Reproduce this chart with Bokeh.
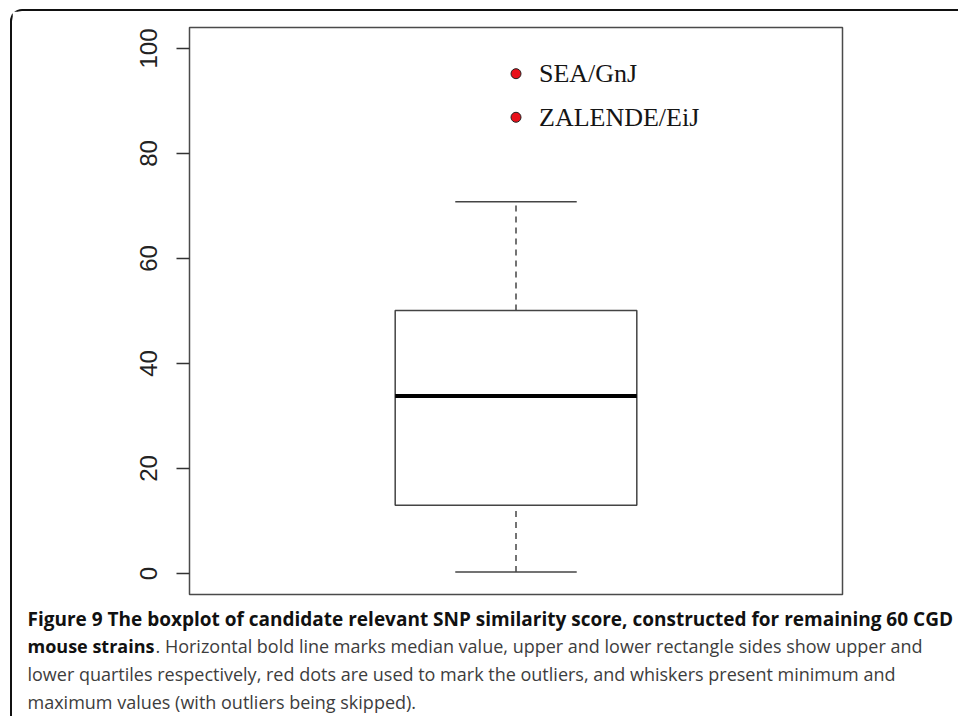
from bokeh.plotting import figure
from bokeh.layouts import column
from bokeh.models import Range1d, FixedTicker, ColumnDataSource
from bokeh.core.properties import value
from bokeh.embed import file_html
from bokeh.resources import INLINE

# ---- data ----
box_center = [1.0]
q1 = [13.0]
median = [33.8]
q3 = [50.1]
whisker_low = [0.3]
whisker_high = [70.8]
outlier_names = ["SEA/GnJ", "ZALENDE/EiJ"]
outlier_values = [95.2, 86.9]
y_ticks = [0, 20, 40, 60, 80, 100]

caption_bold_1 = "Figure 9 The boxplot of candidate relevant SNP similarity score, constructed for remaining 60 CGD"
caption_bold_2 = "mouse strains"
caption_rest_2 = ". Horizontal bold line marks median value, upper and lower rectangle sides show upper and"
caption_3 = "lower quartiles respectively, red dots are used to mark the outliers, and whiskers present minimum and"
caption_4 = "maximum values (with outliers being skipped)."

# ---- layout ----
BOX_W = 0.37
CAP_W = 0.186
X0, X1 = 0.5, 1.5
Y0, Y1 = -4, 104
W, H = 946, 589
FL, FT, FR, FB = 177, 16, 830, 583   # plot frame in canvas pixels
CH = 116                              # caption panel height

p = figure(width=W, height=H, output_backend="svg", toolbar_location=None,
           x_range=Range1d(X0, X1), y_range=Range1d(Y0, Y1),
           min_border_left=FL, min_border_right=W - FR, min_border_top=FT, min_border_bottom=H - FB)
p.frame_align = False
p.xaxis.visible = False
p.xgrid.visible = False
p.ygrid.visible = False
p.background_fill_color = "white"
p.border_fill_color = "white"
p.outline_line_color = "#4a4a4a"
p.outline_line_width = 1.5

yax = p.yaxis[0]
yax.ticker = FixedTicker(ticks=y_ticks)
yax.axis_line_color = None
yax.major_tick_out = 13
yax.major_tick_in = 0
yax.minor_tick_line_color = None
yax.major_tick_line_color = "#333333"
yax.major_tick_line_width = 1.5
yax.major_label_orientation = "parallel"
yax.major_label_standoff = 20
yax.major_label_text_font = "Liberation Sans"
yax.major_label_text_font_size = "24px"
yax.major_label_text_color = "#222222"

# whiskers (dashed)
p.segment(x0=box_center, y0=q3, x1=box_center, y1=whisker_high, line_color="#444444",
          line_width=1.5, line_dash="6 5")
p.segment(x0=box_center, y0=whisker_low, x1=box_center, y1=q1, line_color="#444444",
          line_width=1.5, line_dash="6 5")
# caps
p.segment(x0=[c - CAP_W / 2 for c in box_center], y0=whisker_high,
          x1=[c + CAP_W / 2 for c in box_center], y1=whisker_high, line_color="#444444", line_width=1.5)
p.segment(x0=[c - CAP_W / 2 for c in box_center], y0=whisker_low,
          x1=[c + CAP_W / 2 for c in box_center], y1=whisker_low, line_color="#444444", line_width=1.5)
# box
p.quad(left=[c - BOX_W / 2 for c in box_center], right=[c + BOX_W / 2 for c in box_center],
       bottom=q1, top=q3, fill_color="white", line_color="#444444", line_width=1.5)
# median
p.segment(x0=[c - BOX_W / 2 for c in box_center], y0=median,
          x1=[c + BOX_W / 2 for c in box_center], y1=median, line_color="black", line_width=4)

# outliers
osrc = ColumnDataSource(dict(x=[box_center[0]] * len(outlier_values), y=outlier_values, name=outlier_names))
p.scatter(x="x", y="y", source=osrc, size=10, fill_color="#e8101a", line_color="#222222", line_width=1)
p.text(x="x", y="y", text="name", source=osrc, x_offset=23, text_baseline="middle",
       text_font=value("Liberation Serif"), text_font_size="26px", text_color="#151515")

# ---- caption panel (pixel coordinate space) ----
c = figure(width=W, height=CH, output_backend="svg", toolbar_location=None,
           x_range=Range1d(0, W), y_range=Range1d(CH, 0), min_border=0)
c.frame_align = False
c.axis.visible = False
c.grid.visible = False
c.outline_line_color = None
c.background_fill_color = "white"
c.border_fill_color = "white"


def cap(text, px, py, bold, color, size):
    c.text(x=[px], y=[py], text=[text], text_font=value("Open Sans"), text_font_size=size,
           text_font_style="bold" if bold else "normal", text_color=color,
           text_baseline="middle", text_align="left")


cap(caption_bold_1, 15, 18, True, "#111111", "19px")
cap(caption_bold_2, 15, 45, True, "#111111", "18px")
cap(caption_rest_2, 143, 45, False, "#3d3d3d", "18px")
cap(caption_3, 15, 73, False, "#3d3d3d", "18px")
cap(caption_4, 15, 101, False, "#3d3d3d", "18px")

root = column(p, c, spacing=0)
root.styles = {"margin-left": "10px", "margin-top": "9px",
               "border-left": "2px solid #111111", "border-top": "2px solid #111111",
               "border-top-left-radius": "12px"}

open("out.html", "w").write(file_html(root, INLINE))
